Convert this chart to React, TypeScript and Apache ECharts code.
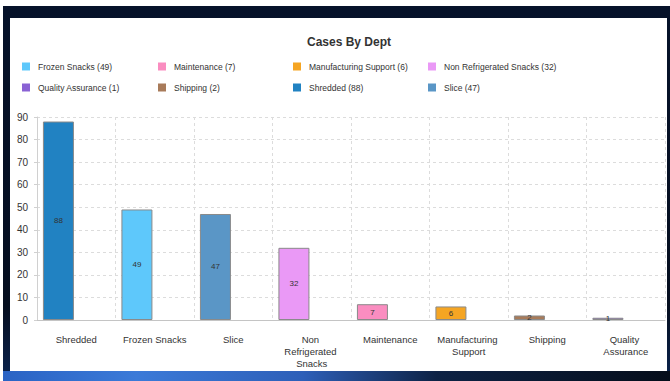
import React, { useEffect, useRef } from "react";
import * as echarts from "echarts";

// Departments in display order (largest first) and their case counts
const categories = [
  "Shredded",
  "Frozen Snacks",
  "Slice",
  "Non Refrigerated Snacks",
  "Maintenance",
  "Manufacturing Support",
  "Shipping",
  "Quality Assurance",
];
const values = [88, 49, 47, 32, 7, 6, 2, 1];
const deptColors = [
  "#2182c2",
  "#5ec8fb",
  "#5a96c6",
  "#ea99f6",
  "#fa8dc0",
  "#f5a523",
  "#a87b5a",
  "#8a62d4",
];

// Legend is listed alphabetically
const legendOrder = [
  "Frozen Snacks",
  "Maintenance",
  "Manufacturing Support",
  "Non Refrigerated Snacks",
  "Quality Assurance",
  "Shipping",
  "Shredded",
  "Slice",
];

const yMax = 90;
const yInterval = 10;

const labelFor = (dept: string) => `${dept} (${values[categories.indexOf(dept)]})`;

function App() {
  const ref = useRef<HTMLDivElement>(null);

  useEffect(() => {
    if (!ref.current) return;
    const chart = echarts.init(ref.current, undefined, { renderer: "svg" });

    const textColor = "#333";
    const fontFamily = "Liberation Sans, Arial, sans-serif";

    // one stacked series per department, only populated at its own category
    const deptSeries = categories.map((dept, i) => ({
      name: labelFor(dept),
      type: "bar" as const,
      stack: "cases",
      barWidth: 31,
      barGap: "15%",
      data: categories.map((_, j) => (j === i ? values[i] : "-")),
      itemStyle: { color: deptColors[i], borderColor: "#8a8a8a", borderWidth: 1 },
      label: {
        show: true,
        position: "inside" as const,
        color: textColor,
        fontSize: 8,
        fontFamily,
      },
    }));

    // empty companion stack that keeps the bars on the left of each band
    const spacer = {
      name: "spacer",
      type: "bar" as const,
      stack: "spacer",
      barWidth: 31,
      barGap: "15%",
      data: categories.map(() => "-"),
    };

    const colX = [12, 148, 283, 418];
    const rowY = [44, 65];
    const legends = legendOrder.map((dept, k) => ({
      data: [labelFor(dept)],
      left: colX[k % 4],
      top: rowY[Math.floor(k / 4)],
      padding: 0,
      icon: "rect",
      itemWidth: 8,
      itemHeight: 8,
      itemStyle: { borderWidth: 0 },
      selectedMode: false,
      textStyle: {
        color: textColor,
        fontSize: 8.5,
        fontFamily,
        padding: [0, 0, 0, 3],
      },
    }));

    chart.setOption({
      animation: false,
      backgroundColor: "#ffffff",
      color: deptColors,
      title: {
        text: "Cases By Dept",
        left: 334,
        top: 13,
        textAlign: "center",
        textStyle: { color: textColor, fontSize: 12, fontWeight: "bold", fontFamily },
      },
      legend: legends,
      grid: { left: 27, right: 2, top: 99, bottom: 51, containLabel: false },
      xAxis: {
        type: "category",
        data: categories,
        axisLine: { lineStyle: { color: "#c4c4c4" } },
        axisTick: { show: false },
        axisLabel: {
          color: textColor,
          fontSize: 9.5,
          fontFamily,
          margin: 13,
          interval: 0,
          width: 70,
          overflow: "break",
          lineHeight: 12,
        },
        splitLine: {
          show: true,
          lineStyle: { color: "#dcdcdc", type: [3, 3] },
        },
      },
      yAxis: {
        type: "value",
        min: 0,
        max: yMax,
        interval: yInterval,
        axisLine: { show: true, lineStyle: { color: "#d0d0d0" } },
        axisTick: { show: true, length: 3, lineStyle: { color: "#d0d0d0" } },
        axisLabel: { color: textColor, fontSize: 10, fontFamily, margin: 9 },
        splitLine: { lineStyle: { color: "#dcdcdc", type: [3, 3] } },
      },
      series: [...deptSeries, spacer],
    });

    return () => chart.dispose();
  }, []);

  return (
    <div
      style={{
        position: "fixed",
        left: 0,
        top: 0,
        width: 670,
        height: 381,
        background: "#ffffff",
        overflow: "hidden",
      }}
    >
      <div
        style={{
          position: "absolute",
          left: 3,
          top: 6,
          width: 667,
          height: 375,
          background: "linear-gradient(180deg, #06122a 0%, #050e1f 80%, #0b2550 100%)",
        }}
      />
      <div
        style={{
          position: "absolute",
          left: 3,
          top: 371,
          width: 667,
          height: 10,
          background:
            "linear-gradient(90deg, #2a63c4 0%, #3b7ad8 20%, #2d5fb8 45%, #0d2245 65%, #050d1a 100%)",
        }}
      />
      <div
        ref={ref}
        style={{ position: "absolute", left: 10, top: 18, width: 657, height: 353 }}
      />
    </div>
  );
}

export default App;
